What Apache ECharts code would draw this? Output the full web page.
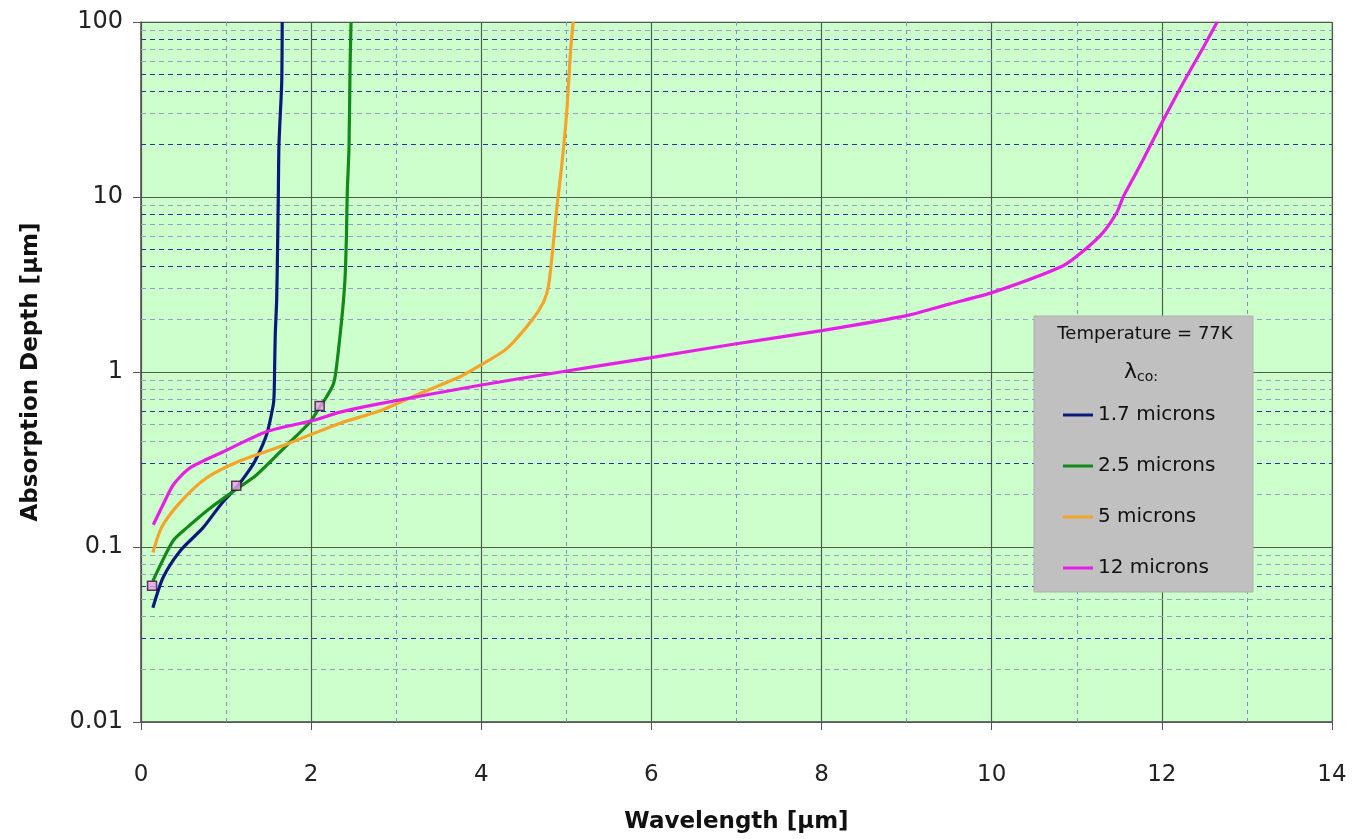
<!DOCTYPE html>
<html>
<head>
<meta charset="utf-8">
<script src="https://cdn.jsdelivr.net/npm/echarts@6/dist/echarts.min.js"></script>
<style>
html,body{margin:0;padding:0;background:#fff;}
#chart{width:1352px;height:839px;}
</style>
</head>
<body>
<div id="chart"></div>
<script>
// ---- Data ----
const seriesNames = ['1.7 microns', '2.5 microns', '5 microns', '12 microns'];

const blueX = [0.14,0.26,0.46,0.73,0.95,1.125,1.25,1.34,1.477,1.555,1.565,1.57,1.578,1.595,1.605,1.614,1.62,1.63,1.654,1.66];
const blueY = [0.045,0.067,0.095,0.129,0.178,0.22,0.265,0.31,0.44,0.65,0.75,1.0,1.62,2.6,5,10,18.7,25,45,100];

const greenX = [0.14,0.38,0.54,0.8,1.085,1.36,1.71,1.99,2.1,2.18,2.26,2.29,2.34,2.378,2.40,2.415,2.425,2.445,2.457,2.469];
const greenY = [0.064,0.109,0.129,0.165,0.208,0.259,0.38,0.52,0.63,0.72,0.85,1.0,1.62,2.5,3.56,6,10.8,19,53,100];

const orangeX = [0.14,0.24,0.46,0.77,1.16,1.67,2.34,2.81,3.28,3.75,3.985,4.30,4.59,4.73,4.79,4.84,4.886,4.945,5.004,5.05,5.08];
const orangeY = [0.093,0.129,0.18,0.248,0.31,0.38,0.51,0.60,0.755,0.94,1.09,1.36,1.96,2.5,3.1,5.04,8.5,15,30.3,69,100];

const magentaX = [0.145,0.26,0.38,0.576,0.967,1.48,2.03,2.34,2.81,3.985,4.93,5.98,7.0,8.02,9.0,9.51,10.02,10.84,11.08,11.31,11.47,11.55,11.70,11.86,12.02,12.25,12.49,12.65];
const magentaY = [0.134,0.175,0.227,0.283,0.35,0.457,0.53,0.59,0.66,0.84,1.0,1.205,1.45,1.73,2.1,2.45,2.86,4.05,4.93,6.28,8.15,10.1,13.8,19.5,27.7,44.8,72,100];

const markerX = [0.13, 1.12, 2.1];
const markerY = [0.06, 0.224, 0.64];

const xTickLabels = ['0','2','4','6','8','10','12','14'];
const yTickLabels = ['0.01','0.1','1','10','100'];

// minor horizontal gridlines (two visual weights as in the picture)
const darkMinorY = [80,50,40,20,8,5,4,0.6,0.3,0.06,0.03];
const lightMinorY = [90,70,60,30,9,7,6,3,2,0.9,0.8,0.7,0.5,0.4,0.2,0.09,0.08,0.07,0.05,0.04,0.02];
const oddX = [1,3,5,7,9,11,13];

const colors = ['#0a1a7a', '#118a18', '#f4a428', '#e61ee6'];

function pairs(xs, ys){ return xs.map((x,i)=>[x, ys[i]]); }

const FONT = 'DejaVu Sans';

const chart = echarts.init(document.getElementById('chart'));

const markData = [];
darkMinorY.forEach(v => markData.push({yAxis: v, lineStyle: {color: '#22379a', type: [5,4], width: 1.2}}));
lightMinorY.forEach(v => markData.push({yAxis: v, lineStyle: {color: '#8fa3c4', type: [5,4], width: 1}}));
oddX.forEach(v => markData.push({xAxis: v, lineStyle: {color: '#6f9cb8', type: [4,4], width: 1}}));

const lineSeries = [blueX, greenX, orangeX, magentaX].map((xs, i) => ({
  name: seriesNames[i],
  type: 'line',
  data: pairs(xs, [blueY, greenY, orangeY, magentaY][i]),
  showSymbol: false,
  symbol: 'none',
  smooth: 0.25,
  z: 5,
  lineStyle: {color: colors[i], width: 3.2},
  itemStyle: {color: colors[i]}
}));

const option = {
  animation: false,
  backgroundColor: '#ffffff',
  grid: {
    left: 141, right: 20, top: 22, bottom: 114,
    show: true, backgroundColor: '#ccffcc', borderColor: '#9a9a9a', borderWidth: 1
  },
  xAxis: {
    type: 'value', min: 0, max: 14, interval: 2,
    name: 'Wavelength [µm]', nameLocation: 'middle', nameGap: 89,
    nameTextStyle: {fontFamily: FONT, fontSize: 23, fontWeight: 'bold', color: '#111'},
    axisLine: {show: true, onZero: false, lineStyle: {color: '#555', width: 1.5}},
    axisTick: {show: true, length: 8, lineStyle: {color: '#555'}},
    axisLabel: {
      margin: 42, fontFamily: FONT, fontSize: 23, color: '#222',
      formatter: v => xTickLabels[Math.round(v / 2)]
    },
    splitLine: {show: true, lineStyle: {color: '#4d5e4d', width: 1.2}}
  },
  yAxis: {
    type: 'log', logBase: 10, min: 0.01, max: 100,
    name: 'Absorption Depth [µm]', nameLocation: 'middle', nameGap: 98,
    nameTextStyle: {fontFamily: FONT, fontSize: 23, fontWeight: 'bold', color: '#111'},
    axisLine: {show: true, lineStyle: {color: '#555', width: 1.5}},
    axisTick: {show: true, length: 8, lineStyle: {color: '#555'}},
    axisLabel: {
      margin: 18, fontFamily: FONT, fontSize: 24, color: '#222',
      formatter: v => yTickLabels[Math.round(Math.log10(v)) + 2]
    },
    splitLine: {show: true, lineStyle: {color: '#4d5e4d', width: 1.2}}
  },
  legend: {
    data: seriesNames,
    orient: 'vertical',
    left: 1063, top: 405,
    itemWidth: 30, itemHeight: 3, itemGap: 31,
    icon: 'rect',
    padding: 0,
    z: 20,
    textStyle: {fontFamily: FONT, fontSize: 20, color: '#111'}
  },
  graphic: [
    {type: 'rect', z: 15, shape: {x: 1034, y: 316, width: 219, height: 276},
     style: {fill: '#c0c0c0', stroke: '#b0b0b0'}},
    {type: 'text', z: 16, x: 1145, y: 334,
     style: {text: 'Temperature = 77K', fontFamily: FONT, fontSize: 18, fill: '#111', align: 'center', verticalAlign: 'middle'}},
    {type: 'text', z: 16, x: 1124, y: 372,
     style: {text: '{l|λ}{s|co:}', fill: '#111', verticalAlign: 'middle',
       rich: {l: {fontFamily: FONT, fontSize: 22, fill: '#111'},
              s: {fontFamily: FONT, fontSize: 14, fill: '#111', padding: [10, 0, 0, 0]}}}}
  ],
  series: [
    {
      type: 'line', data: [], silent: true, z: 1,
      markLine: {silent: true, symbol: 'none', label: {show: false}, animation: false, data: markData}
    },
    ...lineSeries,
    {
      type: 'scatter', name: 'points', data: pairs(markerX, markerY),
      symbol: 'rect', symbolSize: 9, z: 10,
      itemStyle: {color: '#e8a0e8', borderColor: '#3a0a3a', borderWidth: 1.5}
    }
  ]
};
chart.setOption(option);
</script>
</body>
</html>
